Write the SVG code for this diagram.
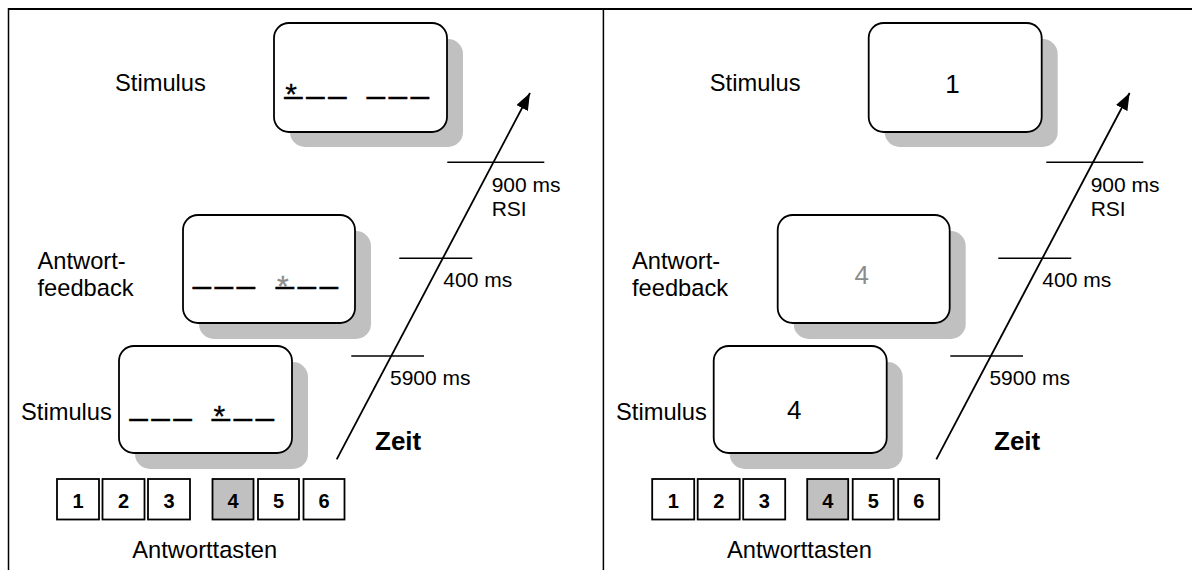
<svg xmlns="http://www.w3.org/2000/svg" width="1192" height="570" viewBox="0 0 1192 570">
<style>
text{font-family:"Liberation Sans",Arial,sans-serif;fill:#000}
.lbl{font-size:23.7px}
.tm{font-size:21px}
.zeit{font-size:26px;font-weight:bold}
.key{font-size:20px;font-weight:bold;text-anchor:middle}
.dash{font-size:32px;letter-spacing:4.2px;stroke:#000;stroke-width:0.35}
.ast{font-size:30px;letter-spacing:0;stroke-width:0.3}
.gast{fill:#8c8c8c;stroke:#8c8c8c}
.gnum{fill:#8c8c8c}
.big{font-size:26px;text-anchor:middle}
.box{fill:#fff;stroke:#000;stroke-width:1.8}
.shadow{fill:#c0c0c0}
.btn{fill:#fff;stroke:#000;stroke-width:1.8}
.btn.on{fill:#c0c0c0}
.frame{stroke:#000;fill:none}
.tick{stroke:#000;stroke-width:1.5}
.arrow{stroke:#000;stroke-width:1.8;fill:none}
</style>
<defs>
<marker id="ah" markerUnits="userSpaceOnUse" markerWidth="18" markerHeight="14" refX="17" refY="6.5" orient="auto">
<path d="M0,0 L17,6.5 L0,13 Z" fill="#000"/>
</marker>
</defs>

<g id="frame">
<line class="frame" x1="8" y1="9" x2="1192" y2="9" stroke-width="2"/>
<line class="frame" x1="8.5" y1="8" x2="8.5" y2="570" stroke-width="1.5"/>
<line class="frame" x1="603.4" y1="9" x2="603.4" y2="570" stroke-width="1.5"/>
</g>

<!-- LEFT PANEL -->
<g id="L-stim1">
<text class="lbl" x="115" y="90.5">Stimulus</text>
<rect class="shadow" x="290" y="39" width="173" height="108" rx="15"/>
<rect class="box" x="274" y="23" width="173" height="109" rx="15"/>
<text class="dash"><tspan class="ast" x="285.2" y="103.5">*</tspan><tspan x="284.4" y="93.1">___</tspan><tspan x="367.1" y="93.1">___</tspan></text>
</g>
<g id="L-feedback">
<text class="lbl" x="37.5" y="269">Antwort-</text>
<text class="lbl" x="37.5" y="295.7">feedback</text>
<rect class="shadow" x="199" y="231" width="172" height="108" rx="15"/>
<rect class="box" x="183" y="215" width="172" height="108" rx="15"/>
<text class="dash"><tspan x="192.9" y="283.4">___</tspan><tspan class="ast gast" x="277.1" y="295.5">*</tspan><tspan x="275.9" y="283.4">___</tspan></text>
</g>
<g id="L-stim2">
<text class="lbl" x="21" y="419.5">Stimulus</text>
<rect class="shadow" x="135" y="362" width="173" height="107" rx="15"/>
<rect class="box" x="119" y="346" width="173" height="107" rx="15"/>
<text class="dash"><tspan x="129.7" y="415.1">___</tspan><tspan class="ast" x="213.5" y="425.5">*</tspan><tspan x="212.1" y="415.1">___</tspan></text>
</g>
<g id="L-keys">
<rect class="btn" x="57" y="479" width="42" height="40.5"/><text class="key" x="78" y="507.5">1</text>
<rect class="btn" x="102.5" y="479" width="42" height="40.5"/><text class="key" x="123.5" y="507.5">2</text>
<rect class="btn" x="148" y="479" width="42" height="40.5"/><text class="key" x="169" y="507.5">3</text>
<rect class="btn on" x="212.5" y="479" width="41" height="40.5"/><text class="key" x="233" y="507.5">4</text>
<rect class="btn" x="258" y="479" width="41" height="40.5"/><text class="key" x="278.5" y="507.5">5</text>
<rect class="btn" x="303.5" y="479" width="41" height="40.5"/><text class="key" x="324" y="507.5">6</text>
<text class="lbl" x="132.3" y="558.3">Antworttasten</text>
</g>
<g id="L-time">
<text class="tm" x="491.7" y="192.3">900 ms</text>
<text class="tm" x="491.7" y="215.7">RSI</text>
<text class="tm" x="443.3" y="287.3">400 ms</text>
<text class="tm" x="390" y="385">5900 ms</text>
<text class="zeit" x="375" y="450">Zeit</text>
</g>

<!-- RIGHT PANEL -->
<g id="R-stim1">
<text class="lbl" x="709.8" y="90.5">Stimulus</text>
<rect class="shadow" x="884.7" y="39" width="173" height="108" rx="15"/>
<rect class="box" x="868.7" y="23" width="173" height="109" rx="15"/>
<text class="big" x="952.5" y="93.3">1</text>
</g>
<g id="R-feedback">
<text class="lbl" x="632" y="269">Antwort-</text>
<text class="lbl" x="632" y="295.7">feedback</text>
<rect class="shadow" x="793.7" y="231" width="172" height="108" rx="15"/>
<rect class="box" x="777.7" y="215" width="172" height="108" rx="15"/>
<text class="big gnum" x="861.7" y="284.3">4</text>
</g>
<g id="R-stim2">
<text class="lbl" x="616" y="419.5">Stimulus</text>
<rect class="shadow" x="729.7" y="362" width="173" height="107" rx="15"/>
<rect class="box" x="713.7" y="346" width="173" height="107" rx="15"/>
<text class="big" x="794.3" y="419">4</text>
</g>
<g id="R-keys">
<rect class="btn" x="652.2" y="479" width="42" height="40.5"/><text class="key" x="673.2" y="507.5">1</text>
<rect class="btn" x="697.7" y="479" width="42" height="40.5"/><text class="key" x="718.7" y="507.5">2</text>
<rect class="btn" x="743.2" y="479" width="42" height="40.5"/><text class="key" x="764.2" y="507.5">3</text>
<rect class="btn on" x="807.2" y="479" width="41" height="40.5"/><text class="key" x="827.7" y="507.5">4</text>
<rect class="btn" x="852.7" y="479" width="41" height="40.5"/><text class="key" x="873.2" y="507.5">5</text>
<rect class="btn" x="898.2" y="479" width="41" height="40.5"/><text class="key" x="918.7" y="507.5">6</text>
<text class="lbl" x="727" y="558.3">Antworttasten</text>
</g>
<g id="R-time">
<text class="tm" x="1090.7" y="192.3">900 ms</text>
<text class="tm" x="1090.7" y="215.7">RSI</text>
<text class="tm" x="1042.3" y="287.3">400 ms</text>
<text class="tm" x="989.4" y="385">5900 ms</text>
<text class="zeit" x="994" y="450">Zeit</text>
</g>

<g id="connectors">
<line class="arrow" x1="336.7" y1="459.3" x2="530" y2="93" marker-end="url(#ah)"/>
<line class="tick" x1="447.3" y1="162.3" x2="544.3" y2="162.3"/>
<line class="tick" x1="399.3" y1="258.3" x2="472.3" y2="258.3"/>
<line class="tick" x1="351.3" y1="356" x2="424" y2="356"/>
<line class="arrow" x1="936.3" y1="459.3" x2="1129.6" y2="93" marker-end="url(#ah)"/>
<line class="tick" x1="1046.3" y1="162.3" x2="1143.3" y2="162.3"/>
<line class="tick" x1="998.3" y1="258.3" x2="1071.3" y2="258.3"/>
<line class="tick" x1="950.3" y1="356" x2="1023" y2="356"/>
</g>
</svg>
